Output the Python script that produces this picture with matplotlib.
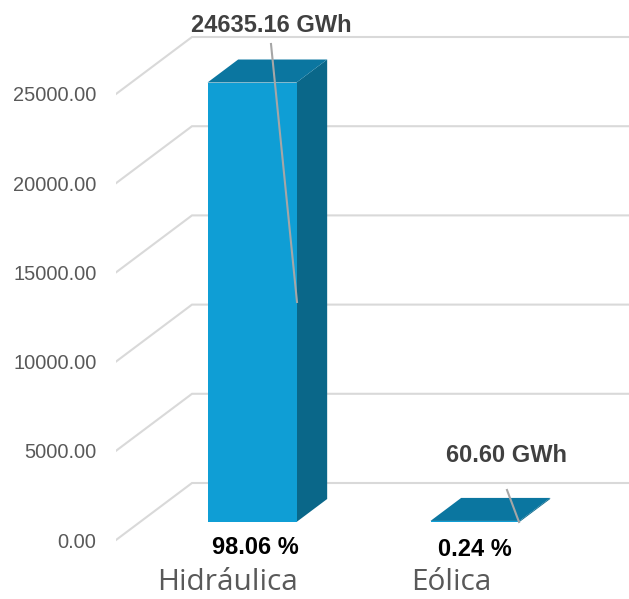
import matplotlib
matplotlib.use("Agg")
import matplotlib.pyplot as plt
from matplotlib.patches import Polygon

categories = ["Hidráulica", "Eólica"]
energy_gwh = [24635.16, 60.60]
share_pct = [98.06, 0.24]
y_ticks = [0, 5000, 10000, 15000, 20000, 25000]

W, H = 629, 599
AX_LEFT, AX_BOTTOM_PX = 116, 563   # axes box in figure pixels
PX_PER_CAT = 223.0
PX_PER_VAL = 89.2 / 5000
ZERO_PX = 540                      # pixel row of value 0 on the front plane
CAT0_PX = 228                      # pixel column of the first category on the front plane

# oblique projection: depth 0 is the front of the floor, depth 1 the back wall
DEPTH_X = 76 / PX_PER_CAT
DEPTH_Y = 57 / PX_PER_VAL
BAR_WIDTH = 89 / PX_PER_CAT
BAR_D0, BAR_D1 = 18 / 57, 41 / 57

GRID = "#d9d9d9"
FRONT, TOP, SIDE = "#0f9ed5", "#0b76a0", "#0a6789"
LEADER = "#a6a6a6"

fig = plt.figure(figsize=(W / 100, H / 100), dpi=100, facecolor="white")
ax = fig.add_axes([AX_LEFT / W, (H - AX_BOTTOM_PX) / H, (W - AX_LEFT) / W, AX_BOTTOM_PX / H])
ax.set_xlim((AX_LEFT - CAT0_PX) / PX_PER_CAT, (W - CAT0_PX) / PX_PER_CAT)
ax.set_ylim((ZERO_PX - AX_BOTTOM_PX) / PX_PER_VAL, ZERO_PX / PX_PER_VAL)
for s in ax.spines.values():
    s.set_visible(False)
x0 = ax.get_xlim()[0]
x1 = ax.get_xlim()[1]


def project(x, v, d):
    return x + d * DEPTH_X, v + d * DEPTH_Y


# side wall diagonals and back wall gridlines
for v in y_ticks:
    ax.plot([x0, x0 + DEPTH_X, x1], [v, v + DEPTH_Y, v + DEPTH_Y],
            color=GRID, lw=1.5, solid_joinstyle="miter", zorder=1)

# cuboid bars: front, side and top faces
for i, v in enumerate(energy_gwh):
    xl, xr = i - BAR_WIDTH / 2, i + BAR_WIDTH / 2
    fr = [project(xl, 0, BAR_D0), project(xr, 0, BAR_D0), project(xr, v, BAR_D0), project(xl, v, BAR_D0)]
    sd = [project(xr, 0, BAR_D0), project(xr, 0, BAR_D1), project(xr, v, BAR_D1), project(xr, v, BAR_D0)]
    tp = [project(xl, v, BAR_D0), project(xr, v, BAR_D0), project(xr, v, BAR_D1), project(xl, v, BAR_D1)]
    ax.add_patch(Polygon(sd, fc=SIDE, ec="none", zorder=3))
    ax.add_patch(Polygon(tp, fc=TOP, ec="none", zorder=3))
    ax.add_patch(Polygon(fr, fc=FRONT, ec="none", zorder=3))

ax.set_yticks(y_ticks, [f"{v:.2f}" for v in y_ticks], fontfamily="Liberation Sans",
              fontsize=14.4, color="#595959")
ax.set_xticks(range(len(categories)), categories, fontfamily="Open Sans", fontsize=21.5, color="#595959")
ax.tick_params(axis="y", length=0, pad=14)
ax.tick_params(axis="x", length=0, pad=3.5)

# value labels with leader lines, in figure pixel coordinates
pix = lambda px, py: (px / W, 1 - py / H)
energy_pos = [(271, 26), (507, 456)]
leader_ends = [((271, 44), (297, 302)), ((507, 490), (519, 522))]
share_pos = [(255, 547), (475, 549)]
for i, v in enumerate(energy_gwh):
    fig.text(*pix(*energy_pos[i]), f"{v:.2f} GWh", ha="center", va="center",
             fontfamily="Liberation Sans", fontweight="bold", fontsize=17, color="#404040", zorder=6)
    (ax_, ay), (bx, by) = leader_ends[i]
    fig.add_artist(plt.Line2D([ax_ / W, bx / W], [1 - ay / H, 1 - by / H], color=LEADER, lw=1.5, zorder=5))
    fig.text(*pix(*share_pos[i]), f"{share_pct[i]:.2f} %", ha="center", va="center",
             fontfamily="Liberation Sans", fontweight="bold", fontsize=17, color="black", zorder=6)

fig.savefig("out.png", dpi=100)
